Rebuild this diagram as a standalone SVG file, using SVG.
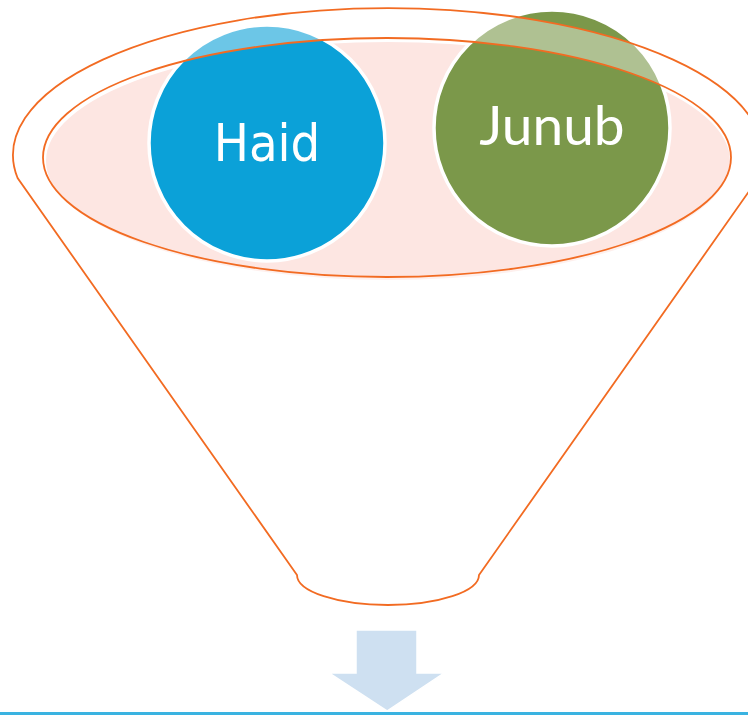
<svg xmlns="http://www.w3.org/2000/svg" width="748" height="715" viewBox="0 0 748 715">
<style>
.outline{fill:none;stroke:#F26B22;stroke-width:1.8}
.circle{stroke:#FFFFFF;stroke-width:3.5}
.label{font-family:Lato,"Open Sans","DejaVu Sans",sans-serif;font-size:55px;fill:#FFFFFF;text-anchor:middle}
.haid{font-family:"DejaVu Sans",sans-serif;font-stretch:condensed;font-size:52px}
</style>
<rect width="748" height="715" fill="#FFFFFF"/>
<g id="funnel-bowl">
<ellipse cx="388" cy="161" rx="343" ry="120" fill="#FDE6E2" stroke="#FFFFFF" stroke-width="2"/>
</g>
<g id="haid">
<circle class="circle" cx="267" cy="143" r="118" fill="#0BA1D8"/>
<text class="label haid" x="267" y="161">Haid</text>
</g>
<g id="junub">
<circle class="circle" cx="552" cy="128" r="118" fill="#7B984A"/>
<text class="label" x="552" y="145">Junub</text>
</g>
<g id="funnel">
<path d="M17.6 178 A375 147 0 1 1 758.4 178 L479 575 A91 30 0 0 1 297 575 Z M43 157.5 A344 119.5 0 1 0 731 157.5 A344 119.5 0 1 0 43 157.5 Z" fill="#FFFFFF" fill-opacity="0.4" fill-rule="evenodd"/>
<path class="outline" d="M17.6 178 A375 147 0 1 1 758.4 178 L479 575 A91 30 0 0 1 297 575 Z"/>
<ellipse class="outline" cx="387" cy="157.5" rx="344" ry="119.5"/>
</g>
<g id="connectors">
<rect x="0" y="712" width="748" height="3" fill="#3AB3E1"/>
<path d="M356 630 L417 630 L417 673 L444 673 L387 711 L329 673 L356 673 Z" fill="#CEE0F1" stroke="#FFFFFF" stroke-width="1.5"/>
</g>
</svg>
